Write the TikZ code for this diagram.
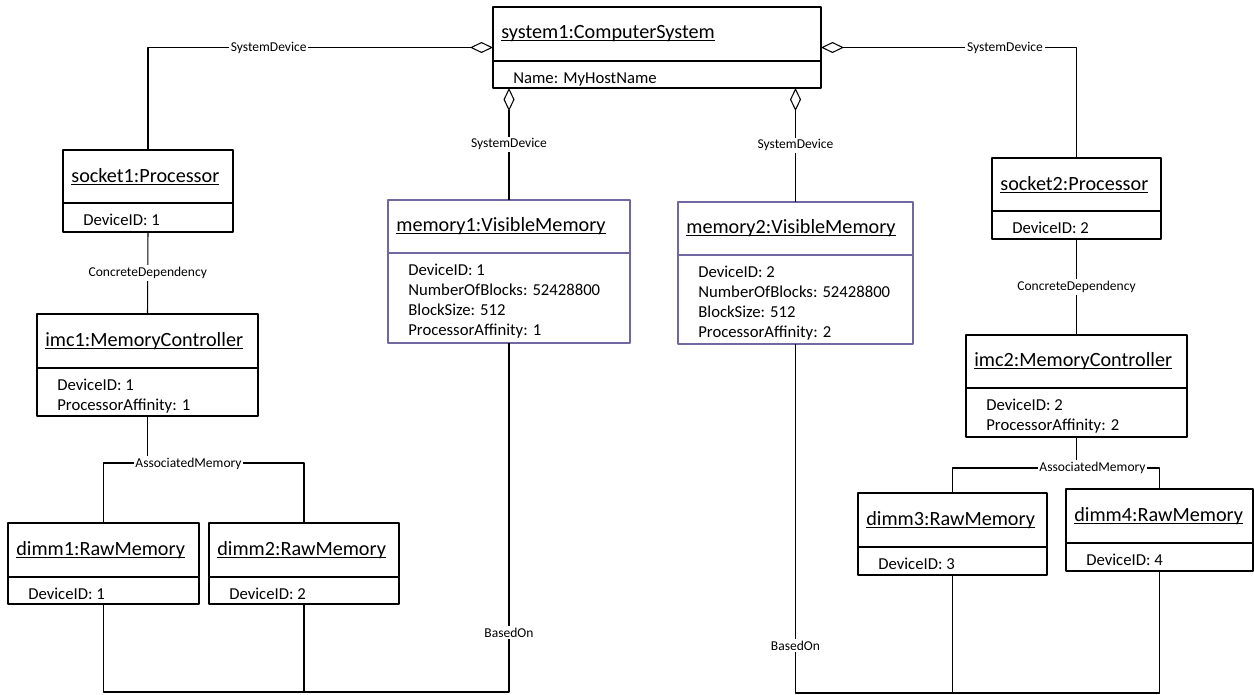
\documentclass[tikz,border=0pt]{standalone}
\usepackage{fontspec}
\setmainfont{Carlito}
\usetikzlibrary{arrows.meta}
\definecolor{memframe}{RGB}{112,104,160}
\newlength{\ulwd}
\newcommand{\ulname}[1]{\settowidth{\ulwd}{#1}\rlap{\rule[-1.3pt]{\ulwd}{0.5pt}}#1}
\newcommand{\objbox}[9][black]{%
	\node[objframe, draw=#1, minimum width={(#5-#3)*0.02cm}, minimum height={(#7-#4)*0.02cm}] (#2) at ({(#3+#5)/2}, {(#4+#7)/2}) {};
	\draw[objline, draw=#1] (#3, #6) -- (#5, #6);
	\node[objtitle] (#2-title) at (#3+8, {(#4+#6)/2}) {\ulname{#8}};
	\node[objattr] (#2-attr) at (#3+20, #6+8) {\strut#9};
}
\begin{document}
\begin{tikzpicture}[x=0.02cm, y=-0.02cm, line join=round,
		objframe/.style={draw, line width=0.75pt, inner sep=0pt, outer sep=0pt},
		objline/.style={line width=0.75pt},
		objtitle/.style={anchor=west, inner sep=0pt, font=\fontsize{11.5}{13.8}\selectfont},
		objattr/.style={anchor=north west, inner sep=0pt, align=left, font=\fontsize{9.5}{11.34}\selectfont},
		lbl/.style={fill=white, inner sep=1pt, font=\fontsize{7.7}{9}\selectfont},
		link/.style={line width=0.6pt},
		agg/.style={link, -{Diamond[fill=white, length=0.46cm, width=0.22cm]}}]
	\useasboundingbox (0, 0) rectangle (1254, 694);
	\objbox{system1}{493}{7}{821}{61}{88}{system1:ComputerSystem}{Name: MyHostName}
	\objbox{socket1}{63}{150}{233}{203}{232}{socket1:Processor}{DeviceID: 1}
	\objbox{socket2}{992}{158}{1161}{211}{239}{socket2:Processor}{DeviceID: 2}
	\objbox[memframe]{memory1}{388}{200}{630}{253}{343}{memory1:VisibleMemory}{DeviceID: 1\\NumberOfBlocks: 52428800\\BlockSize: 512\\ProcessorAffinity: 1}
	\objbox[memframe]{memory2}{678}{202}{913}{255}{344}{memory2:VisibleMemory}{DeviceID: 2\\NumberOfBlocks: 52428800\\BlockSize: 512\\ProcessorAffinity: 2}
	\objbox{imc1}{37}{314}{258}{368}{416}{imc1:MemoryController}{DeviceID: 1\\ProcessorAffinity: 1}
	\objbox{imc2}{966}{335}{1187}{388}{437}{imc2:MemoryController}{DeviceID: 2\\ProcessorAffinity: 2}
	\objbox{dimm1}{8}{523}{199}{577}{604}{dimm1:RawMemory}{DeviceID: 1}
	\objbox{dimm2}{209}{523}{399}{577}{604}{dimm2:RawMemory}{DeviceID: 2}
	\objbox{dimm3}{858}{493}{1047}{547}{575}{dimm3:RawMemory}{DeviceID: 3}
	\objbox{dimm4}{1066}{489}{1253}{543}{571}{dimm4:RawMemory}{DeviceID: 4}
	\draw[agg] (socket1.north) |- (system1.west) node[lbl, pos=0.675] (sd1) {SystemDevice};
	\draw[agg] (socket2.north) |- (system1.east) node[lbl, pos=0.64] (sd2) {SystemDevice};
	\draw[agg] (memory1.north) -- (memory1.north |- system1.south) node[lbl, midway] (sd3) {SystemDevice};
	\draw[agg] (memory2.north) -- (memory2.north |- system1.south) node[lbl, midway] (sd4) {SystemDevice};
	\draw[link] (socket1.south) -- (imc1.north) node[lbl, midway] (cd1) {ConcreteDependency};
	\draw[link] (socket2.south) -- (imc2.north) node[lbl, midway] (cd2) {ConcreteDependency};
	\path (imc1.south) ++(0, 47) coordinate (am1);
	\draw[link] (imc1.south) -- (am1);
	\draw[link] (dimm1.north) |- (am1) -| (dimm2.north);
	\path (am1) ++(41, 1) node[lbl] (am1lbl) {AssociatedMemory};
	\path (imc2.south) ++(0, 31) coordinate (am2);
	\draw[link] (imc2.south) -- (am2);
	\draw[link] (dimm3.north) |- (am2) -| (dimm4.north);
	\path (am2) ++(16, 0) node[lbl] (am2lbl) {AssociatedMemory};
	\path (memory1.south) ++(0, 349) coordinate (bo1);
	\draw[link] (memory1.south) -- (bo1) node[lbl, pos=0.83] (bo1lbl) {BasedOn} -| (dimm1.south);
	\draw[link] (dimm2.south) -- (dimm2.south |- bo1);
	\path (memory2.south) ++(0, 349) coordinate (bo2);
	\draw[link] (memory2.south) -- (bo2) node[lbl, pos=0.865] (bo2lbl) {BasedOn} -| (dimm4.south);
	\draw[link] (dimm3.south) -- (dimm3.south |- bo2);
\end{tikzpicture}
\end{document}
